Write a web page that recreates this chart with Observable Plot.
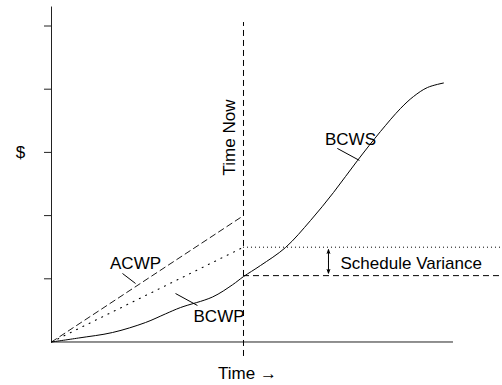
<!DOCTYPE html>
<html>
<head>
<meta charset="utf-8">
<script src="https://cdn.jsdelivr.net/npm/d3@7"></script>
<script src="https://cdn.jsdelivr.net/npm/@observablehq/plot@0.6"></script>
<style>
  html, body { margin: 0; padding: 0; background: #fff; }
  #chart svg { display: block; }
</style>
</head>
<body>
<div id="chart"></div>
<script>
// ---- data (time units 0..100 along the axis, $ in tick units) ----
const yTicks = [1, 2, 3, 4, 5];
const timeNow = 47.76;
const timeEnd = 100;
const rightEdge = 112.19;

// BCWS (solid S-curve)
const bcwsX = [0, 6.72, 15.17, 23.38, 28.36, 32.09, 40.05, 45.02, 47.76, 51.99, 58.21, 64.43, 70.15, 76.12, 81.84, 86.82, 90.05, 93.53, 97.51];
const bcwsY = [0, 0.063, 0.150, 0.308, 0.445, 0.545, 0.712, 0.905, 1.035, 1.210, 1.495, 1.922, 2.366, 2.872, 3.331, 3.695, 3.884, 4.027, 4.098];

// ACWP (dashed) up to time now
const acwpX = [0, timeNow];
const acwpY = [0, 2.0];

// dotted line up to time now, then level
const bcwsPlanX = [0, timeNow];
const bcwsPlanY = [0, 1.5];
const bcwsPlanLevel = 1.5;

// dashed level of earned value at time now
const evLevel = 1.05;

// Time Now line extent
const timeNowY = [-0.229, 5.055];

// Axis extents
const yAxisTop = 5.3;

// curve labels and leaders
const labelText = ["BCWS", "ACWP", "BCWP"];
const labelX = [74.38, 20.9, 41.67];
const labelY = [3.21, 1.242, 0.403];
const leaderX1 = [71.1, 17.66, 30.85];
const leaderY1 = [3.063, 1.084, 0.767];
const leaderX2 = [76.6, 20.9, 36.3];
const leaderY2 = [2.873, 0.926, 0.578];

// schedule variance annotation
const svText = "Schedule Variance";
const svTextX = 71.9, svTextY = 1.234;
const svArrowX = 68.9;
const svArrowTop = 1.46, svArrowBottom = 1.09;

// other texts
const timeNowText = "Time Now";
const timeNowTextX = 44.28, timeNowTextY = 3.236;
const yLabel = "$";
const yLabelX = -7.71, yLabelY = 3.0;
const xLabel = "Time \u2192";
const xLabelX = 48.76, xLabelY = -0.498;

const idx = (arr) => arr.map((_, i) => i);
const FONT = "Liberation Sans, Arial, Helvetica, sans-serif";
const DASH = "6,4";

const chart = Plot.plot({
  width: 502,
  height: 385,
  marginTop: 0, marginBottom: 0, marginLeft: 51, marginRight: 0,
  style: { fontFamily: FONT, background: "#fff", overflow: "visible" },
  x: { domain: [0, rightEdge], axis: null },
  y: { domain: [-0.6883, 5.4035], axis: null },
  marks: [
    // axes
    Plot.axisY({ ticks: yTicks, tickSize: 7, tickFormat: () => "", label: null, stroke: "#222" }),
    Plot.ruleX([0], { y1: 0, y2: yAxisTop, stroke: "#222", strokeWidth: 1 }),
    Plot.ruleY([0], { x1: 0, x2: timeEnd, stroke: "#222", strokeWidth: 1 }),
    // Time Now line
    Plot.ruleX([timeNow], { y1: timeNowY[0], y2: timeNowY[1], stroke: "#000", strokeDasharray: DASH }),
    // curves
    Plot.line(idx(bcwsX), { x: (i) => bcwsX[i], y: (i) => bcwsY[i], curve: "catmull-rom", stroke: "#000", strokeWidth: 1 }),
    Plot.line(idx(acwpX), { x: (i) => acwpX[i], y: (i) => acwpY[i], stroke: "#000", strokeWidth: 0.9, strokeDasharray: DASH }),
    Plot.line(idx(bcwsPlanX), { x: (i) => bcwsPlanX[i], y: (i) => bcwsPlanY[i], stroke: "#000", strokeWidth: 1.1, strokeDasharray: "1,6" }),
    Plot.ruleY([bcwsPlanLevel], { x1: timeNow, x2: rightEdge, stroke: "#000", strokeDasharray: "1,3" }),
    Plot.ruleY([evLevel], { x1: timeNow, x2: rightEdge, stroke: "#000", strokeDasharray: DASH }),
    // leaders
    Plot.link(idx(labelText), { x1: (i) => leaderX1[i], y1: (i) => leaderY1[i], x2: (i) => leaderX2[i], y2: (i) => leaderY2[i], stroke: "#000" }),
    Plot.text(idx(labelText), { x: (i) => labelX[i], y: (i) => labelY[i], text: (i) => labelText[i], fontSize: 17, fill: "#000" }),
    // schedule variance double arrow
    Plot.arrow([0], { x1: svArrowX, y1: (svArrowTop + svArrowBottom) / 2, x2: svArrowX, y2: svArrowTop, headLength: 6, headAngle: 40, stroke: "#000", strokeWidth: 1 }),
    Plot.arrow([0], { x1: svArrowX, y1: (svArrowTop + svArrowBottom) / 2, x2: svArrowX, y2: svArrowBottom, headLength: 6, headAngle: 40, stroke: "#000", strokeWidth: 1 }),
    Plot.text([svText], { x: svTextX, y: svTextY, text: (d) => d, textAnchor: "start", fontSize: 17, fill: "#000" }),
    // other texts
    Plot.text([timeNowText], { x: timeNowTextX, y: timeNowTextY, text: (d) => d, rotate: -90, fontSize: 17, fill: "#000" }),
    Plot.text([yLabel], { x: yLabelX, y: yLabelY, text: (d) => d, fontSize: 17, fill: "#000" }),
    Plot.text([xLabel], { x: xLabelX, y: xLabelY, text: (d) => d, fontSize: 17, fill: "#000" })
  ]
});
document.getElementById("chart").appendChild(chart);
</script>
</body>
</html>
